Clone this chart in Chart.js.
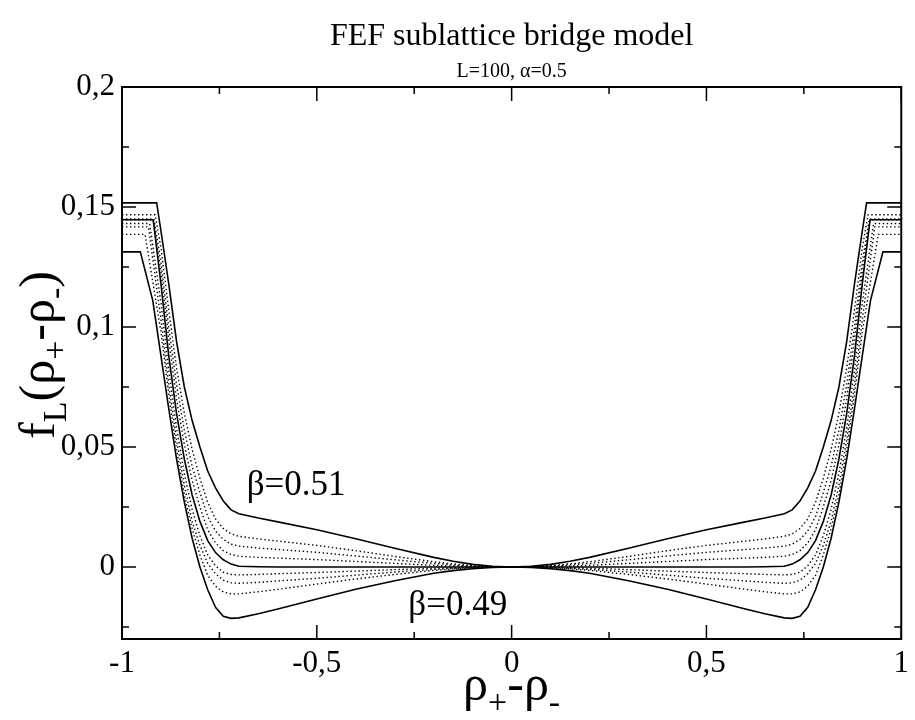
<!DOCTYPE html>
<html>
<head>
<meta charset="utf-8">
<title>FEF sublattice bridge model</title>
<script src="https://cdn.jsdelivr.net/npm/chart.js@4.4.1/dist/chart.umd.min.js"></script>
<style>
  html, body { margin: 0; padding: 0; background: #fff; }
</style>
</head>
<body>
<canvas id="chart-fef" width="915" height="720"></canvas>
<script>
// FEF sublattice bridge model, L=100, alpha=0.5
// curves are even in rho+ - rho-, so only the right half is stored

const rhoGrid = [0, 0.05, 0.1, 0.15, 0.2, 0.3, 0.4, 0.5, 0.6, 0.65, 0.7, 0.72, 0.74, 0.76, 0.78, 0.8, 0.82, 0.84, 0.86, 0.88, 0.9];

const fBeta051 = [0, 0.0003, 0.0011, 0.0024, 0.0040, 0.0078, 0.0118, 0.0155, 0.0188, 0.0204, 0.0222, 0.0238, 0.0275, 0.033, 0.040, 0.050, 0.061, 0.075, 0.094, 0.118, 0.140];
const fDot1 = [0, 0.0002, 0.0006, 0.0013, 0.0022, 0.0044, 0.0068, 0.0090, 0.0108, 0.0117, 0.0128, 0.0138, 0.0160, 0.020, 0.027, 0.037, 0.049, 0.064, 0.083, 0.107, 0.133];
const fDot2 = [0, 0.0001, 0.0004, 0.0009, 0.0015, 0.0030, 0.0046, 0.0061, 0.0073, 0.0079, 0.0087, 0.0095, 0.0115, 0.015, 0.021, 0.031, 0.042, 0.057, 0.076, 0.100, 0.127];
const fDot3 = [0, 0.0001, 0.0002, 0.0004, 0.0007, 0.0015, 0.0023, 0.0031, 0.0037, 0.0040, 0.0045, 0.0052, 0.0068, 0.0100, 0.0155, 0.025, 0.036, 0.051, 0.070, 0.095, 0.123];
const fBeta050 = [0, 0, 0, 0, 0, 0, 0, 0, 0, 0.0001, 0.0003, 0.0012, 0.0030, 0.0060, 0.011, 0.019, 0.030, 0.045, 0.064, 0.088, 0.118];
const fDot4 = [0, 0, -0.0001, -0.0003, -0.0005, -0.0011, -0.0017, -0.0023, -0.0028, -0.0031, -0.0033, -0.0031, -0.0022, 0.0005, 0.005, 0.013, 0.024, 0.039, 0.058, 0.082, 0.110];
const fDot5 = [0, -0.0001, -0.0003, -0.0006, -0.0010, -0.0021, -0.0034, -0.0047, -0.0058, -0.0064, -0.0068, -0.0066, -0.0055, -0.0028, 0.0015, 0.009, 0.019, 0.034, 0.053, 0.076, 0.103];
const fDot6 = [0, -0.0001, -0.0004, -0.0008, -0.0014, -0.0031, -0.0050, -0.0071, -0.0093, -0.0103, -0.0112, -0.0112, -0.0104, -0.0080, -0.0035, 0.005, 0.016, 0.030, 0.049, 0.072, 0.098];
const fBeta049 = [0, -0.0002, -0.0007, -0.0015, -0.0026, -0.0057, -0.0093, -0.0133, -0.0175, -0.0195, -0.0212, -0.0214, -0.0205, -0.0168, -0.0095, 0.0, 0.012, 0.027, 0.045, 0.066, 0.088];

// end of each curve: last drop and the flat part up to |rho+ - rho-| = 1
const edgeBeta051 = [[0.911, 0.1517], [1, 0.1517]];
const edgeDot1 = [[0.915, 0.1468], [1, 0.1468]];
const edgeDot2 = [[0.918, 0.1450], [1, 0.1450]];
const edgeDot3 = [[0.920, 0.1447], [1, 0.1447]];
const edgeBeta050 = [[0.920, 0.1447], [1, 0.1447]];
const edgeDot4 = [[0.929, 0.1431], [1, 0.1431]];
const edgeDot5 = [[0.932, 0.1417], [1, 0.1417]];
const edgeDot6 = [[0.941, 0.1386], [1, 0.1386]];
const edgeBeta049 = [[0.921, 0.111], [0.953, 0.1313], [1, 0.1313]];

const xTicks = [-1, -0.5, 0, 0.5, 1];
const xMinorTicks = [-0.75, -0.25, 0.25, 0.75];
const yTicks = [0, 0.05, 0.1, 0.15, 0.2];
const yMinorTicks = [-0.025, 0.025, 0.075, 0.125, 0.175];
const xRange = [-1, 1];
const yRange = [-0.03, 0.2];

const titre = "FEF sublattice bridge model";
const sousTitre = "L=100, \u03b1=0.5";
const etiquettes = [
  { texte: "\u03b2=0.51", x: -0.68, y: 0.030 },
  { texte: "\u03b2=0.49", x: -0.265, y: -0.0201 }
];

const SERIF = "'Liberation Serif', 'DejaVu Serif', serif";

function construireCourbe(vals, edge) {
  const droite = rhoGrid.map((x, i) => ({ x: x, y: vals[i] }));
  edge.forEach(p => droite.push({ x: p[0], y: p[1] }));
  const gauche = droite.slice(1).map(p => ({ x: -p.x, y: p.y })).reverse();
  return gauche.concat(droite);
}

function serie(vals, edge, pointille) {
  return {
    data: construireCourbe(vals, edge),
    borderColor: "#000",
    borderWidth: pointille ? 1.4 : 1.6,
    borderDash: pointille ? [1.4, 2.6] : [],
    pointRadius: 0,
    tension: 0,
    fill: false
  };
}

// draw a string made of pieces (for subscripts)
function texteRiche(ctx, morceaux, x, y) {
  let total = 0;
  morceaux.forEach(m => {
    ctx.font = m.taille + "px " + SERIF;
    total += ctx.measureText(m.t).width;
  });
  let cx = x - total / 2;
  morceaux.forEach(m => {
    ctx.font = m.taille + "px " + SERIF;
    ctx.fillText(m.t, cx, y + (m.dy || 0));
    cx += ctx.measureText(m.t).width;
  });
}

const cadrePlugin = {
  id: "cadre",
  afterDraw(chart) {
    const ctx = chart.ctx;
    const a = chart.chartArea;
    const sx = chart.scales.x;
    const sy = chart.scales.y;
    ctx.save();
    ctx.strokeStyle = "#000";
    ctx.fillStyle = "#000";

    ctx.lineWidth = 1.5;
    ctx.beginPath();
    const trait = (vals, long) => {
      vals.forEach(v => {
        const px = sx.getPixelForValue(v);
        ctx.moveTo(px, a.bottom); ctx.lineTo(px, a.bottom - long);
        ctx.moveTo(px, a.top); ctx.lineTo(px, a.top + long);
      });
    };
    const traitY = (vals, long) => {
      vals.forEach(v => {
        const py = sy.getPixelForValue(v);
        ctx.moveTo(a.left, py); ctx.lineTo(a.left + long, py);
        ctx.moveTo(a.right, py); ctx.lineTo(a.right - long, py);
      });
    };
    trait(xTicks, 14);
    trait(xMinorTicks, 7);
    traitY(yTicks, 14);
    traitY(yMinorTicks, 7);
    ctx.stroke();

    ctx.lineWidth = 2;
    ctx.strokeRect(a.left, a.top, a.right - a.left, a.bottom - a.top);

    const milieu = (a.left + a.right) / 2;
    ctx.textAlign = "center";
    ctx.textBaseline = "alphabetic";
    ctx.font = "32px " + SERIF;
    ctx.fillText(titre, milieu, 45);
    ctx.font = "20px " + SERIF;
    ctx.fillText(sousTitre, milieu, 77);

    ctx.textAlign = "left";
    ctx.font = "35px " + SERIF;
    etiquettes.forEach(e => {
      ctx.fillText(e.texte, sx.getPixelForValue(e.x), sy.getPixelForValue(e.y));
    });

    // axis titles
    texteRiche(ctx, [
      { t: "\u03c1", taille: 50 },
      { t: "+", taille: 34, dy: 13 },
      { t: "-\u03c1", taille: 50 },
      { t: "-", taille: 34, dy: 13 }
    ], milieu, 700);

    ctx.translate(54, 355);
    ctx.rotate(-Math.PI / 2);
    texteRiche(ctx, [
      { t: "f", taille: 50 },
      { t: "L", taille: 34, dy: 12 },
      { t: "(\u03c1", taille: 50 },
      { t: "+", taille: 34, dy: 12 },
      { t: "-\u03c1", taille: 50 },
      { t: "-", taille: 34, dy: 12 },
      { t: ")", taille: 50 }
    ], 0, 0);
    ctx.restore();
  }
};

const virgule = v => String(v).replace(".", ",");

new Chart(document.getElementById("chart-fef").getContext("2d"), {
  type: "line",
  data: {
    datasets: [
      serie(fDot1, edgeDot1, true),
      serie(fDot2, edgeDot2, true),
      serie(fDot3, edgeDot3, true),
      serie(fDot4, edgeDot4, true),
      serie(fDot5, edgeDot5, true),
      serie(fDot6, edgeDot6, true),
      serie(fBeta051, edgeBeta051, false),
      serie(fBeta050, edgeBeta050, false),
      serie(fBeta049, edgeBeta049, false)
    ]
  },
  options: {
    responsive: false,
    animation: false,
    devicePixelRatio: 1,
    layout: { padding: { top: 87, right: 9, left: 0, bottom: 0 } },
    plugins: {
      legend: { display: false },
      tooltip: { enabled: false }
    },
    scales: {
      x: {
        type: "linear",
        min: xRange[0],
        max: xRange[1],
        grid: { display: false, drawTicks: false },
        border: { display: false },
        afterBuildTicks: s => { s.ticks = xTicks.map(v => ({ value: v })); },
        afterFit: s => { s.height = 81; },
        ticks: {
          padding: 6,
          color: "#000",
          maxRotation: 0,
          font: { family: SERIF, size: 31 },
          callback: virgule
        }
      },
      y: {
        min: yRange[0],
        max: yRange[1],
        grid: { display: false, drawTicks: false },
        border: { display: false },
        afterBuildTicks: s => { s.ticks = yTicks.map(v => ({ value: v })); },
        afterFit: s => { s.width = 122; },
        ticks: {
          padding: 7,
          color: "#000",
          font: { family: SERIF, size: 31 },
          callback: virgule
        }
      }
    }
  },
  plugins: [cadrePlugin]
});
</script>
</body>
</html>
